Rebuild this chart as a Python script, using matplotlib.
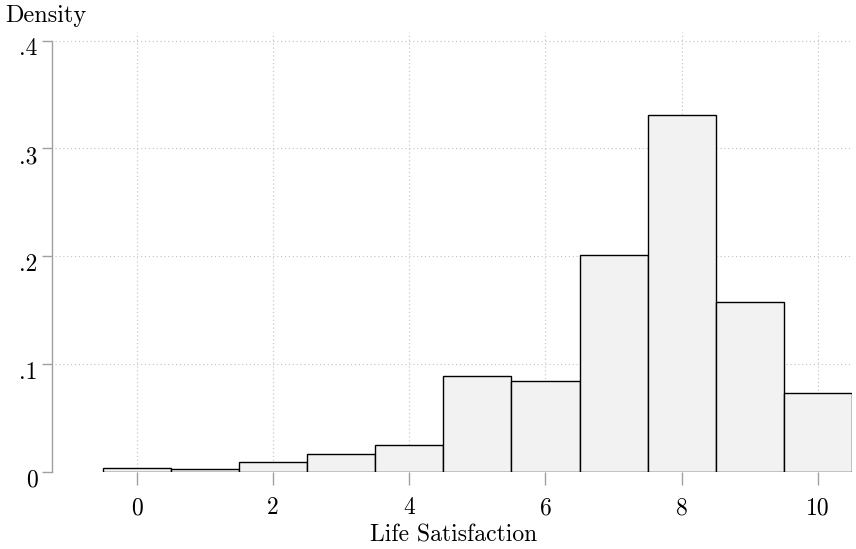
import matplotlib
matplotlib.use("Agg")
import matplotlib.pyplot as plt
import matplotlib.transforms as mtransforms
import numpy as np

plt.rcParams['font.family'] = ['cmr10', 'DejaVu Serif']
plt.rcParams['axes.formatter.use_mathtext'] = True

scores = [0, 1, 2, 3, 4, 5, 6, 7, 8, 9, 10]
density = [0.004, 0.003, 0.009, 0.0164, 0.0248, 0.089, 0.0845, 0.2014, 0.3307, 0.158, 0.0736]
xticks = [0, 2, 4, 6, 8, 10]
yticks = [0, 0.1, 0.2, 0.3, 0.4]
ytick_labels = ['0', '.1', '.2', '.3', '.4']

FS = 17

fig = plt.figure(figsize=(8.56, 5.49), dpi=100)
ax = fig.add_axes([55/856, 77/549, 797/856, 440/549])

ax.bar(scores, density, width=1.0, align='center', color='#f2f2f2',
       edgecolor='black', linewidth=1.0, zorder=3)

ax.set_xlim(-1.2, 10.5)
ax.set_ylim(0, 0.408)

ax.set_xticks(xticks)
ax.set_xticklabels([str(v) for v in xticks])
ax.set_yticks(yticks)
ax.set_yticklabels(ytick_labels)

ax.grid(True, linestyle=(0, (1, 2.5)), color='#c0c0c0', linewidth=0.8, zorder=0)
ax.yaxis.get_gridlines()[-1].set_visible(False)

for s in ['top', 'right', 'bottom']:
    ax.spines[s].set_visible(False)
ax.spines['left'].set_position(('outward', 2))
ax.spines['left'].set_bounds(0, 0.4)
ax.spines['left'].set_color('#a0a0a0')
ax.spines['left'].set_linewidth(1.0)

ax.tick_params(axis='both', colors='#a0a0a0', width=1.0,
               labelcolor='black', labelsize=FS)
ax.tick_params(axis='x', length=9, pad=9)
ax.tick_params(axis='y', length=7, pad=3.5)

ax.set_xlabel('Life Satisfaction', fontsize=FS, labelpad=4)
fig.text(5/856, 1 - 16/549, 'Density', fontsize=FS + 0.5, ha='left', va='center')

offset = mtransforms.ScaledTranslation(0, 2.5/100, fig.dpi_scale_trans)
for t in ax.yaxis.get_major_ticks():
    t.label1.set_verticalalignment('top')
    t.label1.set_transform(t.label1.get_transform() + offset)

fig.savefig('out.png', dpi=100)
